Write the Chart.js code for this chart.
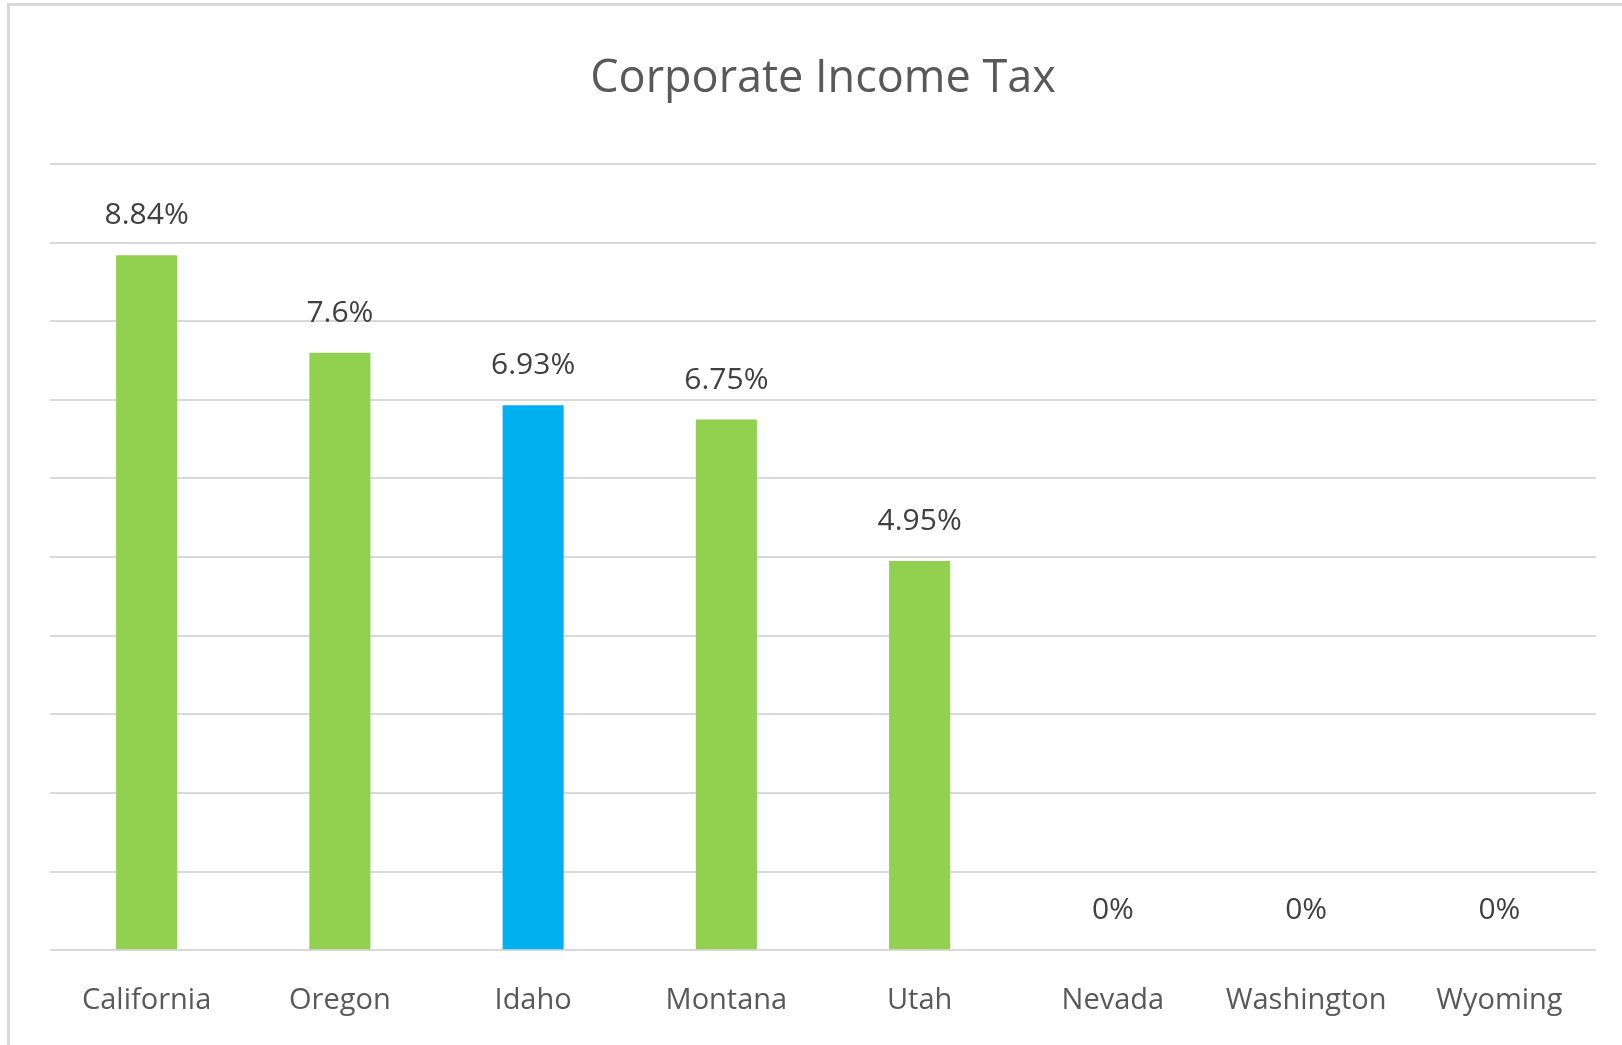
<!DOCTYPE html>
<html>
<head>
<meta charset="utf-8">
<script src="https://cdn.jsdelivr.net/npm/chart.js@4"></script>
<style>
  html, body { margin: 0; padding: 0; background: #ffffff; overflow: hidden; }
  #frame { position: absolute; left: 7px; top: 3px; width: 1700px; height: 1100px;
           border-top: 3px solid #D9D9D9; border-left: 3px solid #D9D9D9; box-sizing: border-box; }
  #chart { position: absolute; left: 0; top: 0; }
</style>
</head>
<body>
<div id="frame"></div>
<canvas id="chart" width="1622" height="1045"></canvas>
<script>
const categories = ["California", "Oregon", "Idaho", "Montana", "Utah", "Nevada", "Washington", "Wyoming"];
const taxRates = [8.84, 7.6, 6.93, 6.75, 4.95, 0, 0, 0];
const barColors = ["#92D050", "#92D050", "#00B0F0", "#92D050", "#92D050", "#92D050", "#92D050", "#92D050"];
const yTicks = [0, 1, 2, 3, 4, 5, 6, 7, 8, 9, 10];
const chartTitle = "Corporate Income Tax";

const FONT = "'Open Sans', 'Noto Sans', sans-serif";

const valueLabels = {
  id: 'valueLabels',
  afterDatasetsDraw(chart) {
    const ctx = chart.ctx;
    const meta = chart.getDatasetMeta(0);
    const data = chart.data.datasets[0].data;
    ctx.save();
    ctx.font = "30px " + FONT;
    ctx.fillStyle = "#404040";
    ctx.textAlign = "center";
    ctx.textBaseline = "alphabetic";
    meta.data.forEach((el, i) => {
      ctx.fillText(String(data[i]) + "%", el.x, el.y - 31);
    });
    ctx.restore();
  }
};

new Chart(document.getElementById('chart'), {
  type: 'bar',
  data: {
    labels: categories,
    datasets: [{
      data: taxRates,
      backgroundColor: barColors,
      borderWidth: 0,
      barPercentage: 0.316,
      categoryPercentage: 1.0
    }]
  },
  options: {
    responsive: false,
    animation: false,
    devicePixelRatio: 1,
    layout: { padding: { left: 50, right: 26, top: 0, bottom: -6 } },
    plugins: {
      legend: { display: false },
      tooltip: { enabled: false },
      title: {
        display: true,
        text: chartTitle,
        color: "#595959",
        font: { family: FONT, size: 45, weight: 'normal', lineHeight: 1.2 },
        padding: { top: 52, bottom: 58 }
      }
    },
    scales: {
      x: {
        grid: { display: false, drawTicks: false },
        border: { display: false },
        ticks: {
          color: "#595959",
          font: { family: FONT, size: 29 },
          padding: 33,
          maxRotation: 0,
          autoSkip: false
        }
      },
      y: {
        min: yTicks[0],
        max: yTicks[yTicks.length - 1],
        afterBuildTicks(scale) { scale.ticks = yTicks.map(v => ({ value: v })); },
        grid: { color: "#D9D9D9", lineWidth: 2, drawTicks: false },
        border: { display: false },
        ticks: { display: false }
      }
    }
  },
  plugins: [valueLabels]
});
</script>
</body>
</html>
